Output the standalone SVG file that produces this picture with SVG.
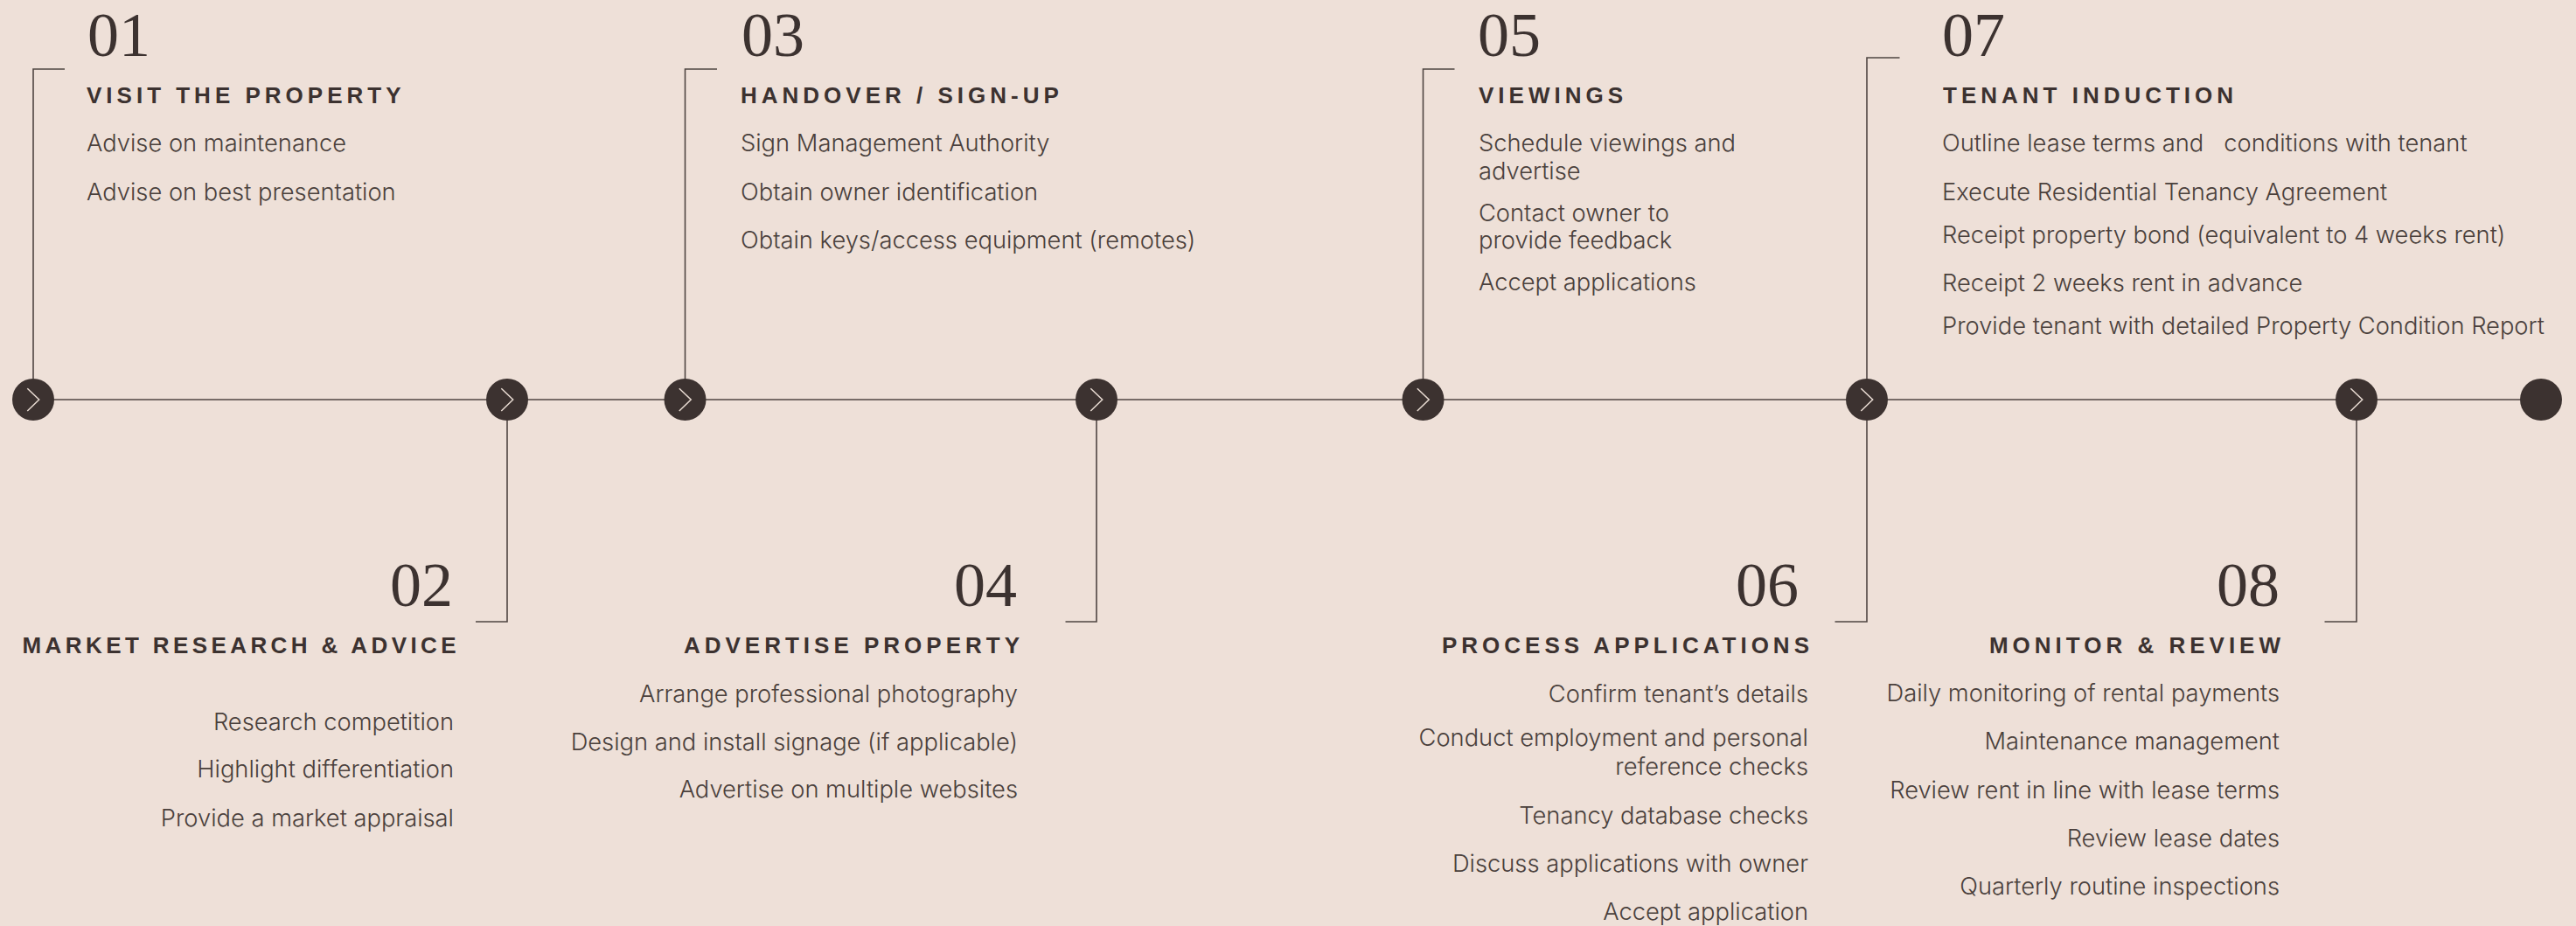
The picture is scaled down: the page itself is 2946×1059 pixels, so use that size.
<svg xmlns="http://www.w3.org/2000/svg" xmlns:xlink="http://www.w3.org/1999/xlink" width="2946" height="1059" viewBox="0 0 2946 1059">
<style>
.num{font-family:"Liberation Serif","Times New Roman",serif;font-size:72px;fill:#3c3230}
.hd{font-family:"Liberation Sans",Arial,sans-serif;font-size:26px;font-weight:bold;letter-spacing:5px;fill:#3c3230}
.it{font-family:Inter,"Liberation Sans",sans-serif;font-size:27.3px;font-weight:300;fill:#4a403c}
.r{text-anchor:end}
.ln{stroke:#4f4542;stroke-width:1.6;fill:none}
</style>
<defs>
<g id="chev">
<circle r="24" fill="#3c3230"/>
<path d="M-6.7,-12.7 L6.7,0 L-6.7,13" fill="none" stroke="#e9dcd3" stroke-width="1.5"/>
</g>
</defs>
<rect width="2946" height="1059" fill="#eee0d8"/>
<g id="connectors">
<line class="ln" x1="38" y1="457" x2="2906" y2="457"/>
<polyline class="ln" points="74,79 38,79 38,433"/>
<polyline class="ln" points="544,711 580,711 580,481"/>
<polyline class="ln" points="820,79 783.5,79 783.5,433"/>
<polyline class="ln" points="1218.5,711 1254,711 1254,481"/>
<polyline class="ln" points="1663.5,79 1627.5,79 1627.5,433"/>
<polyline class="ln" points="2098.5,711 2135,711 2135,481"/>
<polyline class="ln" points="2172.5,66 2135,66 2135,433"/>
<polyline class="ln" points="2658.5,711 2695,711 2695,481"/>
</g>
<g id="timeline">
<use xlink:href="#chev" href="#chev" x="38" y="457"/>
<use xlink:href="#chev" href="#chev" x="580" y="457"/>
<use xlink:href="#chev" href="#chev" x="783.5" y="457"/>
<use xlink:href="#chev" href="#chev" x="1254" y="457"/>
<use xlink:href="#chev" href="#chev" x="1627.5" y="457"/>
<use xlink:href="#chev" href="#chev" x="2135" y="457"/>
<use xlink:href="#chev" href="#chev" x="2695" y="457"/>
<circle cx="2906" cy="457" r="24" fill="#3c3230"/>
</g>
<g id="step-01">
<text class="num" x="100" y="64">01</text>
<text class="hd" x="99" y="118">VISIT THE PROPERTY</text>
<text class="it" x="99" y="173">Advise on maintenance</text>
<text class="it" x="99" y="229">Advise on best presentation</text>
</g>
<g id="step-02">
<text class="num r" x="518" y="693">02</text>
<text class="hd r" x="526" y="747" style="letter-spacing:4.4px">MARKET RESEARCH &amp; ADVICE</text>
<text class="it r" x="519" y="835">Research competition</text>
<text class="it r" x="519" y="889">Highlight differentiation</text>
<text class="it r" x="519" y="945">Provide a market appraisal</text>
</g>
<g id="step-03">
<text class="num" x="848" y="64">03</text>
<text class="hd" x="847" y="118">HANDOVER / SIGN-UP</text>
<text class="it" x="847" y="173">Sign Management Authority</text>
<text class="it" x="847" y="229">Obtain owner identification</text>
<text class="it" x="847" y="284">Obtain keys/access equipment (remotes)</text>
</g>
<g id="step-04">
<text class="num r" x="1163" y="693">04</text>
<text class="hd r" x="1171" y="747">ADVERTISE PROPERTY</text>
<text class="it r" x="1164" y="803">Arrange professional photography</text>
<text class="it r" x="1164" y="858">Design and install signage (if applicable)</text>
<text class="it r" x="1164" y="912">Advertise on multiple websites</text>
</g>
<g id="step-05">
<text class="num" x="1690" y="64">05</text>
<text class="hd" x="1691" y="118">VIEWINGS</text>
<text class="it" x="1691" y="173">Schedule viewings and</text>
<text class="it" x="1691" y="205">advertise</text>
<text class="it" x="1691" y="253">Contact owner to</text>
<text class="it" x="1691" y="284">provide feedback</text>
<text class="it" x="1691" y="332">Accept applications</text>
</g>
<g id="step-06">
<text class="num r" x="2057" y="693">06</text>
<text class="hd r" x="2074" y="747">PROCESS APPLICATIONS</text>
<text class="it r" x="2068" y="803">Confirm tenant’s details</text>
<text class="it r" x="2068" y="853">Conduct employment and personal</text>
<text class="it r" x="2068" y="886">reference checks</text>
<text class="it r" x="2068" y="942">Tenancy database checks</text>
<text class="it r" x="2068" y="997">Discuss applications with owner</text>
<text class="it r" x="2068" y="1052">Accept application</text>
</g>
<g id="step-07">
<text class="num" x="2221" y="64">07</text>
<text class="hd" x="2222" y="118">TENANT INDUCTION</text>
<text class="it" x="2221" y="173" xml:space="preserve">Outline lease terms and   conditions with tenant</text>
<text class="it" x="2221" y="229">Execute Residential Tenancy Agreement</text>
<text class="it" x="2221" y="278">Receipt property bond (equivalent to 4 weeks rent)</text>
<text class="it" x="2221" y="333">Receipt 2 weeks rent in advance</text>
<text class="it" x="2221" y="382">Provide tenant with detailed Property Condition Report</text>
</g>
<g id="step-08">
<text class="num r" x="2607" y="693">08</text>
<text class="hd r" x="2613" y="747">MONITOR &amp; REVIEW</text>
<text class="it r" x="2607" y="802">Daily monitoring of rental payments</text>
<text class="it r" x="2607" y="857">Maintenance management</text>
<text class="it r" x="2607" y="913">Review rent in line with lease terms</text>
<text class="it r" x="2607" y="968">Review lease dates</text>
<text class="it r" x="2607" y="1023">Quarterly routine inspections</text>
</g>
</svg>
